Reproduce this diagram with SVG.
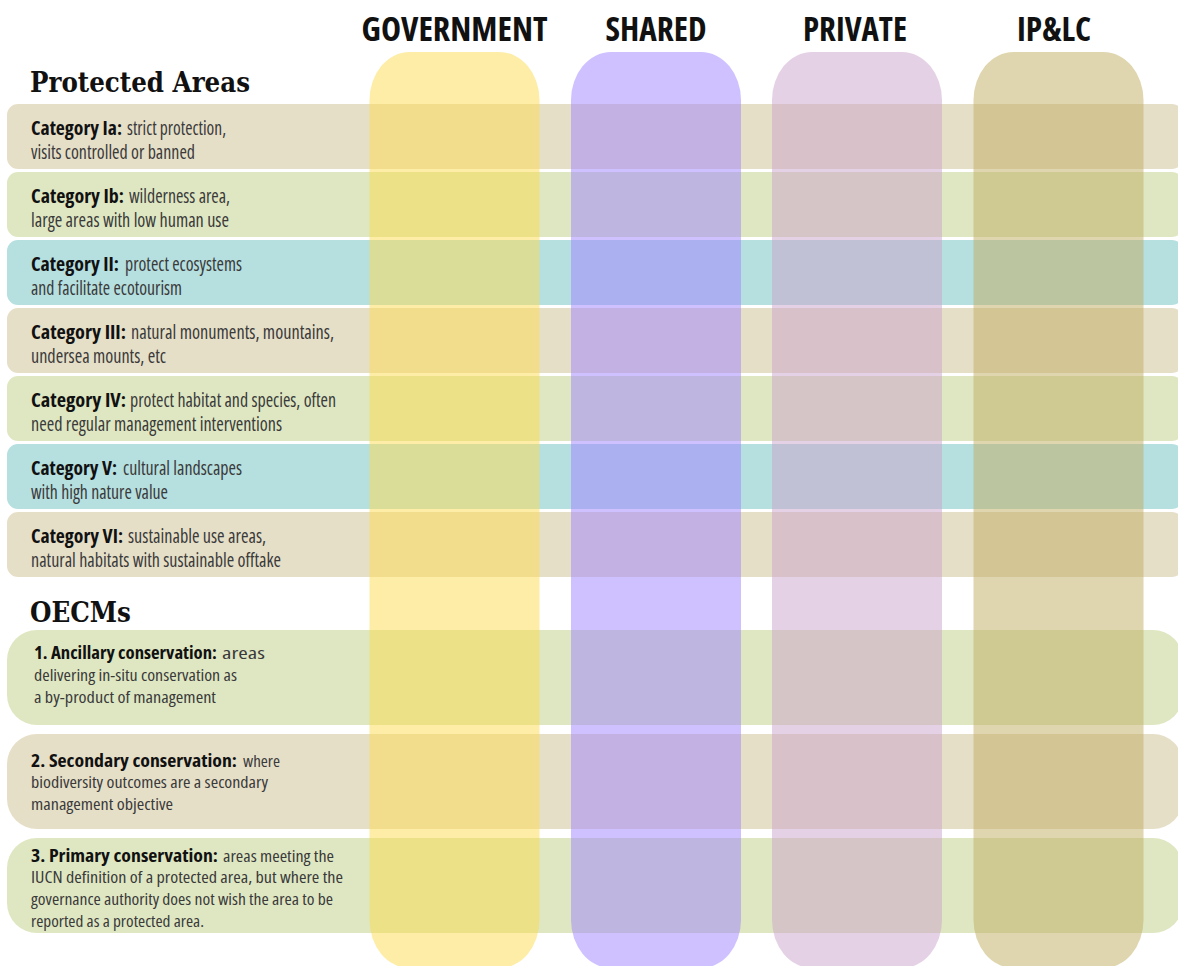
<svg xmlns="http://www.w3.org/2000/svg" width="1178" height="966" viewBox="0 0 1178 966">
<style>
.tan{fill:#E6DFC8}
.grn{fill:#DFE7C2}
.blu{fill:#B6DFE0}
.col{opacity:0.5}
.hd{font-family:"Open Sans","Liberation Sans",sans-serif;font-stretch:condensed;font-weight:700;font-size:34px;fill:#111;text-anchor:middle}
.sec{font-family:"DejaVu Serif","Liberation Serif",serif;font-weight:700;font-size:28px;fill:#111}
.t{font-family:"Open Sans","Liberation Sans",sans-serif;font-stretch:condensed;font-weight:400;font-size:19px;fill:#3a3a3a}
.o{font-size:17px}
.b{font-weight:700;fill:#111}
</style>
<rect width="1178" height="966" fill="#ffffff"/>

<text class="sec" x="30" y="92" textLength="220" lengthAdjust="spacingAndGlyphs">Protected Areas</text>
<text class="sec" x="30" y="622" textLength="101" lengthAdjust="spacingAndGlyphs">OECMs</text>

<g id="row-cat-ia">
<rect class="tan" x="7" y="104" width="1176" height="65" rx="11"/>
<text class="t"><tspan class="b" x="31" y="135" textLength="91" lengthAdjust="spacingAndGlyphs">Category Ia:</tspan><tspan x="127" y="135" textLength="99" lengthAdjust="spacingAndGlyphs">strict protection,</tspan><tspan x="31" y="159" textLength="164" lengthAdjust="spacingAndGlyphs">visits controlled or banned</tspan></text>
</g>
<g id="row-cat-ib">
<rect class="grn" x="7" y="172" width="1176" height="65" rx="11"/>
<text class="t"><tspan class="b" x="31" y="203" textLength="93" lengthAdjust="spacingAndGlyphs">Category Ib:</tspan><tspan x="129" y="203" textLength="101" lengthAdjust="spacingAndGlyphs">wilderness area,</tspan><tspan x="31" y="227" textLength="198" lengthAdjust="spacingAndGlyphs">large areas with low human use</tspan></text>
</g>
<g id="row-cat-ii">
<rect class="blu" x="7" y="240" width="1176" height="65" rx="11"/>
<text class="t"><tspan class="b" x="31" y="271" textLength="88" lengthAdjust="spacingAndGlyphs">Category II:</tspan><tspan x="125" y="271" textLength="117" lengthAdjust="spacingAndGlyphs">protect ecosystems</tspan><tspan x="31" y="295" textLength="151" lengthAdjust="spacingAndGlyphs">and facilitate ecotourism</tspan></text>
</g>
<g id="row-cat-iii">
<rect class="tan" x="7" y="308" width="1176" height="65" rx="11"/>
<text class="t"><tspan class="b" x="31" y="339" textLength="95" lengthAdjust="spacingAndGlyphs">Category III:</tspan><tspan x="131" y="339" textLength="203" lengthAdjust="spacingAndGlyphs">natural monuments, mountains,</tspan><tspan x="31" y="363" textLength="135" lengthAdjust="spacingAndGlyphs">undersea mounts, etc</tspan></text>
</g>
<g id="row-cat-iv">
<rect class="grn" x="7" y="376" width="1176" height="65" rx="11"/>
<text class="t"><tspan class="b" x="31" y="407" textLength="95" lengthAdjust="spacingAndGlyphs">Category IV:</tspan><tspan x="130" y="407" textLength="206" lengthAdjust="spacingAndGlyphs">protect habitat and species, often</tspan><tspan x="31" y="431" textLength="251" lengthAdjust="spacingAndGlyphs">need regular management interventions</tspan></text>
</g>
<g id="row-cat-v">
<rect class="blu" x="7" y="444" width="1176" height="65" rx="11"/>
<text class="t"><tspan class="b" x="31" y="475" textLength="86" lengthAdjust="spacingAndGlyphs">Category V:</tspan><tspan x="123" y="475" textLength="119" lengthAdjust="spacingAndGlyphs">cultural landscapes</tspan><tspan x="31" y="499" textLength="137" lengthAdjust="spacingAndGlyphs">with high nature value</tspan></text>
</g>
<g id="row-cat-vi">
<rect class="tan" x="7" y="512" width="1176" height="65" rx="11"/>
<text class="t"><tspan class="b" x="31" y="543" textLength="92" lengthAdjust="spacingAndGlyphs">Category VI:</tspan><tspan x="128" y="543" textLength="138" lengthAdjust="spacingAndGlyphs">sustainable use areas,</tspan><tspan x="31" y="567" textLength="250" lengthAdjust="spacingAndGlyphs">natural habitats with sustainable offtake</tspan></text>
</g>

<g id="row-oecm-1">
<rect class="grn" x="7" y="630" width="1176" height="95" rx="30"/>
<text class="t o"><tspan class="b" x="34" y="659" textLength="183" lengthAdjust="spacingAndGlyphs">1. Ancillary conservation:</tspan><tspan x="222" y="659" textLength="43" lengthAdjust="spacingAndGlyphs">areas</tspan><tspan x="34" y="681" textLength="203" lengthAdjust="spacingAndGlyphs">delivering in-situ conservation as</tspan><tspan x="34" y="703" textLength="182" lengthAdjust="spacingAndGlyphs">a by-product of management</tspan></text>
</g>
<g id="row-oecm-2">
<rect class="tan" x="7" y="734" width="1176" height="95" rx="30"/>
<text class="t o"><tspan class="b" x="31" y="767" textLength="206" lengthAdjust="spacingAndGlyphs">2. Secondary conservation:</tspan><tspan x="243" y="767" textLength="37" lengthAdjust="spacingAndGlyphs">where</tspan><tspan x="31" y="788" textLength="237" lengthAdjust="spacingAndGlyphs">biodiversity outcomes are a secondary</tspan><tspan x="31" y="810" textLength="142" lengthAdjust="spacingAndGlyphs">management objective</tspan></text>
</g>
<g id="row-oecm-3">
<rect class="grn" x="7" y="838" width="1176" height="95" rx="30"/>
<text class="t o"><tspan class="b" x="31" y="862" textLength="187" lengthAdjust="spacingAndGlyphs">3. Primary conservation:</tspan><tspan x="223" y="862" textLength="111" lengthAdjust="spacingAndGlyphs">areas meeting the</tspan><tspan x="31" y="883" textLength="312" lengthAdjust="spacingAndGlyphs">IUCN definition of a protected area, but where the</tspan><tspan x="31" y="905" textLength="302" lengthAdjust="spacingAndGlyphs">governance authority does not wish the area to be</tspan><tspan x="31" y="927" textLength="173" lengthAdjust="spacingAndGlyphs">reported as a protected area.</tspan></text>
</g>

<g id="col-government">
<rect class="col" x="369.5" y="52" width="170" height="916" rx="40" ry="48" fill="#FBDB4D"/>
<text class="hd" x="454.5" y="41" textLength="186" lengthAdjust="spacingAndGlyphs">GOVERNMENT</text>
</g>
<g id="col-shared">
<rect class="col" x="571" y="52" width="170" height="916" rx="40" ry="48" fill="#9F83FF"/>
<text class="hd" x="656" y="41" textLength="101" lengthAdjust="spacingAndGlyphs">SHARED</text>
</g>
<g id="col-private">
<rect class="col" x="772" y="52" width="170" height="916" rx="40" ry="48" fill="#CBA3CB"/>
<text class="hd" x="855" y="41" textLength="104" lengthAdjust="spacingAndGlyphs">PRIVATE</text>
</g>
<g id="col-iplc">
<rect class="col" x="973.5" y="52" width="170" height="916" rx="40" ry="48" fill="#BFAD5F"/>
<text class="hd" x="1054" y="41" textLength="74" lengthAdjust="spacingAndGlyphs">IP&amp;LC</text>
</g>
</svg>
